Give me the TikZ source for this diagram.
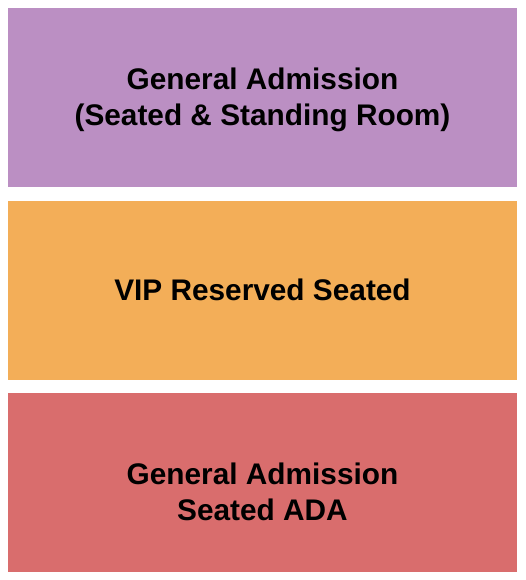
\documentclass[tikz,border=0pt]{standalone}
\usepackage{fontspec}
\setmainfont{Liberation Sans}
\definecolor{gapurple}{HTML}{BB8FC3}
\definecolor{viporange}{HTML}{F3AE58}
\definecolor{adared}{HTML}{D96D6D}
\begin{document}
\begin{tikzpicture}[x=1pt,y=-1pt,
  section/.style={draw=none,fill=#1},
  lbl/.style={font=\fontsize{29.8}{36}\selectfont\bfseries,align=center,text=black}]
\useasboundingbox[fill=white] (0,0) rectangle (525,580);
\path[section=gapurple] (8,8) rectangle (516.5,187);
\path[section=viporange] (8,200.5) rectangle (516.5,379.5);
\path[section=adared] (8,393) rectangle (516.5,572);
\node[lbl] (ga) at (262.5,100) {General Admission\\(Seated \& Standing Room)};
\node[lbl] (vip) at (262.5,289.5) {VIP Reserved Seated};
\node[lbl] (ada) at (262.5,491.5) {General Admission\\Seated ADA};
\end{tikzpicture}
\end{document}
